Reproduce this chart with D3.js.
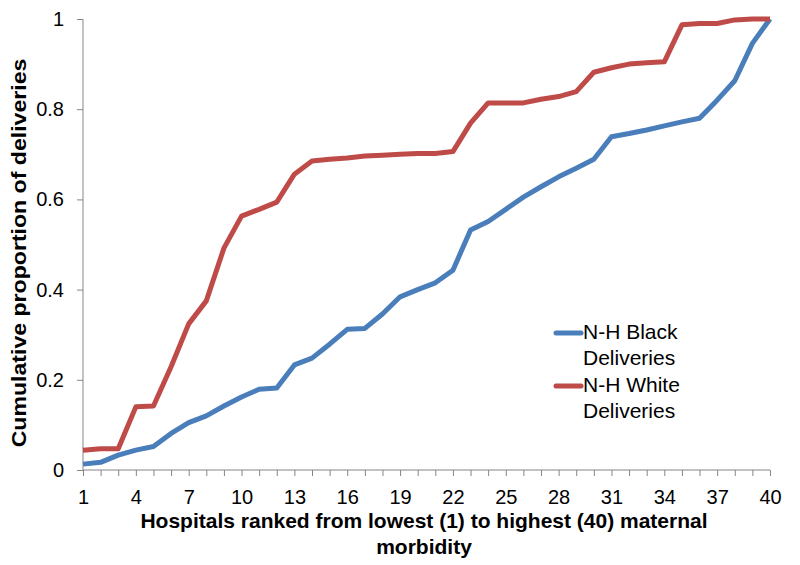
<!DOCTYPE html>
<html><head><meta charset="utf-8">
<script src="https://cdn.jsdelivr.net/npm/d3@7"></script>
<style>body{margin:0;background:#fff}svg{display:block}text{font-family:"Liberation Sans",Arial,sans-serif}</style>
</head><body><svg id="c" width="800" height="565"></svg>
<script>
const ranks = d3.range(1, 41);
const blackDeliveries = [0.013,0.017,0.033,0.044,0.052,0.081,0.105,0.12,0.142,0.162,0.179,0.182,0.233,0.248,0.279,0.312,0.314,0.346,0.384,0.40,0.415,0.443,0.532,0.551,0.578,0.605,0.628,0.65,0.669,0.689,0.739,0.746,0.754,0.763,0.772,0.78,0.82,0.863,0.946,1.0];
const whiteDeliveries = [0.044,0.047,0.047,0.14,0.142,0.229,0.324,0.375,0.492,0.563,0.578,0.594,0.656,0.685,0.689,0.692,0.696,0.698,0.70,0.702,0.702,0.706,0.769,0.814,0.814,0.814,0.822,0.828,0.839,0.882,0.892,0.90,0.903,0.905,0.987,0.99,0.99,0.998,1.0,1.0];
const xTickLabels = [1,4,7,10,13,16,19,22,25,28,31,34,37,40];
const yTicks = [0,0.2,0.4,0.6,0.8,1];
const series = [
  {name:["N-H Black","Deliveries"], values:blackDeliveries, color:"#4a7ebb"},
  {name:["N-H White","Deliveries"], values:whiteDeliveries, color:"#be4b48"}
];

const svg = d3.select("#c");
const x = d3.scaleLinear().domain([1,40]).range([83,770]);
const y = d3.scaleLinear().domain([0,1]).range([470,19]);
const axisColor = "#868686";

// y axis
const ya = svg.append("g").attr("transform","translate(83,0)")
  .call(d3.axisLeft(y).tickValues(yTicks).tickSize(6).tickPadding(13).tickFormat(d => d === 0 || d === 1 ? d3.format("d")(d) : d3.format(".1f")(d)));
ya.selectAll("path,line").attr("stroke",axisColor);
ya.select(".domain").attr("d","M0,19V470");
ya.selectAll("text").attr("font-size",20).attr("fill","#000").attr("font-family","Liberation Sans, Arial, sans-serif");

// x axis
const xa = svg.append("g").attr("transform","translate(0,470)")
  .call(d3.axisBottom(x).tickValues(ranks).tickSize(6).tickPadding(14).tickFormat(d => xTickLabels.includes(d) ? d : ""));
xa.selectAll("path,line").attr("stroke",axisColor);
xa.select(".domain").attr("d","M83,0H770");
xa.selectAll("text").attr("font-size",20).attr("fill","#000").attr("font-family","Liberation Sans, Arial, sans-serif");

// lines
const line = d3.line().x((d,i) => x(ranks[i])).y(d => y(d));
series.forEach(s => {
  svg.append("path").datum(s.values).attr("d", line)
    .attr("fill","none").attr("stroke", s.color).attr("stroke-width",5)
    .attr("stroke-linejoin","round");
});

// legend
const lg = svg.append("g");
series.forEach((s,i) => {
  const yy = 333 + i*53;
  lg.append("line").attr("x1",556).attr("x2",581).attr("y1",yy).attr("y2",yy)
    .attr("stroke",s.color).attr("stroke-width",5).attr("stroke-linecap","round");
  s.name.forEach((t,j) => {
    lg.append("text").attr("x",583).attr("y",yy + 6 + j*26).attr("font-size",21).attr("fill","#000").text(t);
  });
});

// axis titles
svg.append("text").attr("transform","translate(26,253) rotate(-90) scale(1.1,1)").attr("text-anchor","middle")
  .attr("font-size",21).attr("font-weight","bold").text("Cumulative proportion of deliveries");
svg.append("text").attr("x",424).attr("y",528).attr("text-anchor","middle")
  .attr("font-size",21).attr("font-weight","bold").text("Hospitals ranked from lowest (1) to highest (40) maternal");
svg.append("text").attr("x",424).attr("y",554).attr("text-anchor","middle")
  .attr("font-size",21).attr("font-weight","bold").text("morbidity");
</script></body></html>
